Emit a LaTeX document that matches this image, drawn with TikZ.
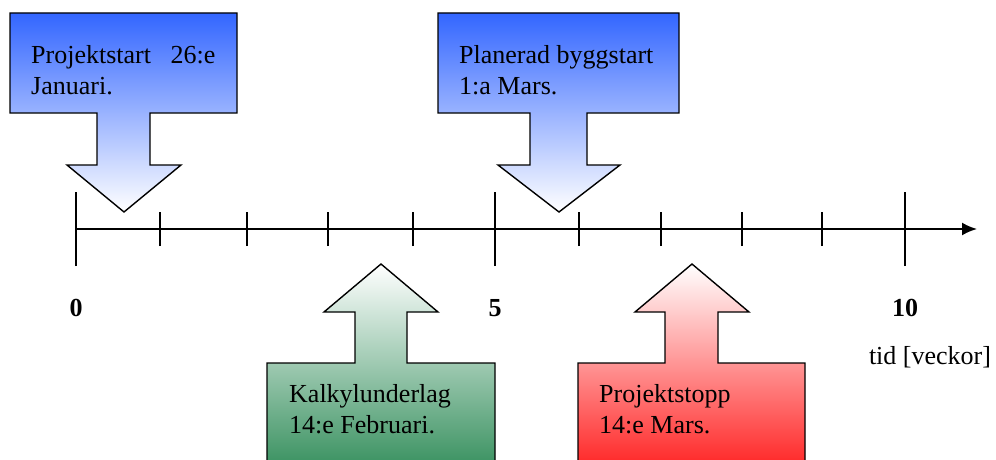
\documentclass[tikz,border=0pt]{standalone}
\usepackage{fontspec}
\setmainfont{Liberation Serif}
\usetikzlibrary{arrows.meta}

\definecolor{calloutblue}{RGB}{51,102,255}
\definecolor{calloutgreen}{RGB}{46,139,87}
\definecolor{calloutred}{RGB}{255,25,25}

\tikzset{
  callout/.style={draw=black,line width=1.4pt,line join=miter},
  boxtext/.style={anchor=north west,align=left,inner sep=0pt,font=\fontsize{26}{31}\selectfont},
  axisnum/.style={inner sep=0pt,font=\fontsize{26}{31}\selectfont\bfseries},
  minortick/.style={line width=1.8pt},
  majortick/.style={line width=1.8pt}
}

\begin{document}
\begin{tikzpicture}[x=1pt,y=1pt,text centered]
  \useasboundingbox (0,0) rectangle (996,459);
  \clip (0,0) rectangle (996,459);

  % time axis
  \coordinate (AX0) at (76,230);
  \coordinate (AXEND) at (977,230);
  \draw[line width=2pt,-{Latex[length=15,width=13]}] (AX0) -- (AXEND);
  \foreach \x in {160,247,328,413,579,661,742,822}
    \draw[minortick] (\x,213) -- (\x,247);
  \foreach \x in {76,495,905}
    \draw[majortick] (\x,193) -- (\x,267);

  \node (L0) at (76,151) [axisnum] {0};
  \node (L5) at (495,151) [axisnum] {5};
  \node (L10) at (905,151) [axisnum] {10};
  \node (TID) at (930,102) [inner sep=0pt,font=\fontsize{26}{31}\selectfont] {tid [veckor]};

  % callouts above the axis
  \shade[callout,top color=calloutblue,bottom color=white]
    (10,446) -- (237,446) -- (237,346) -- (150,346) -- (150,294) -- (181,294)
    -- (124,247) -- (67,294) -- (97,294) -- (97,346) -- (10,346) -- cycle;
  \node (PSTART) at (31,414) [boxtext] {Projektstart\ \ \ 26:e\\Januari.};

  \shade[callout,top color=calloutblue,bottom color=white]
    (438,446) -- (679,446) -- (679,346) -- (587,346) -- (587,294) -- (620,294)
    -- (559,247) -- (498,294) -- (530,294) -- (530,346) -- (438,346) -- cycle;
  \node (BSTART) at (459,414) [boxtext] {Planerad byggstart\\1:a Mars.};

  % callouts below the axis
  \shade[callout,top color=white,bottom color=calloutgreen]
    (381,195) -- (438,147) -- (407,147) -- (407,96) -- (495,96) -- (495,-20)
    -- (267,-20) -- (267,96) -- (355,96) -- (355,147) -- (324,147) -- cycle;
  \node (KALK) at (289,75) [boxtext] {Kalkylunderlag\\14:e Februari.};

  \shade[callout,top color=white,bottom color=calloutred]
    (692,195) -- (749,147) -- (718,147) -- (718,96) -- (805,96) -- (805,-20)
    -- (578,-20) -- (578,96) -- (665,96) -- (665,147) -- (635,147) -- cycle;
  \node (PSTOPP) at (599,75) [boxtext] {Projektstopp\\14:e Mars.};

\end{tikzpicture}
\end{document}
